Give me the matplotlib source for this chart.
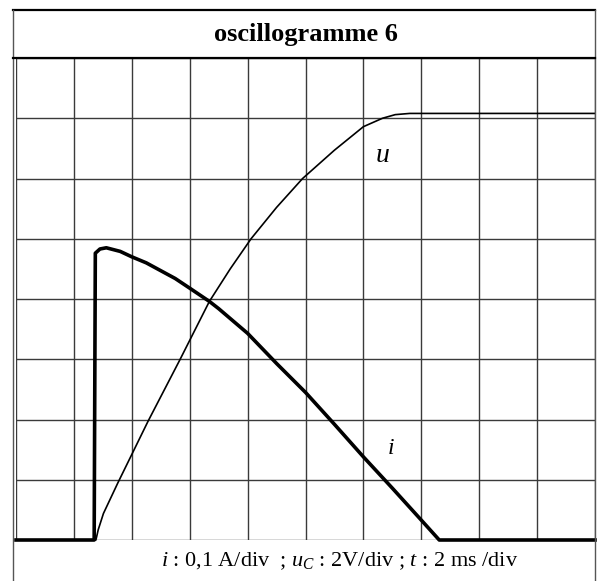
import matplotlib
matplotlib.use("Agg")
import matplotlib.pyplot as plt
from matplotlib.lines import Line2D

# %% data (divisions)
t_i = [0.0, 1.35, 1.37, 1.45, 1.56, 1.8, 2.0, 2.25, 2.5, 2.75, 3.0, 3.34, 3.5, 4.0,
       4.5, 5.0, 5.5, 6.0, 6.5, 7.0, 7.31, 10.0]
i_div = [0.0, 0.0, 4.76, 4.83, 4.85, 4.79, 4.70, 4.60, 4.47, 4.34, 4.18, 3.96, 3.84, 3.43,
         2.93, 2.45, 1.92, 1.38, 0.86, 0.33, 0.0, 0.0]

t_u = [0.0, 1.38, 1.42, 1.51, 1.76, 2.0, 2.28, 2.83, 3.34, 3.7, 4.06, 4.5, 4.95, 5.5,
       6.0, 6.33, 6.55, 6.8, 10.0]
u_div = [0.0, 0.0, 0.17, 0.44, 0.95, 1.42, 1.97, 2.99, 3.96, 4.5, 5.0, 5.52, 6.0, 6.47,
         6.86, 7.0, 7.06, 7.08, 7.08]

title = "oscillogramme 6"
caption = r"$i$ : 0,1 A/div  ; $u_C$ : 2V/div ; $t$ : 2 ms /div"

# %%
plt.rcParams['font.family'] = ['Liberation Serif', 'DejaVu Serif']
plt.rcParams['mathtext.fontset'] = 'custom'
plt.rcParams['mathtext.it'] = 'Liberation Serif:italic'
plt.rcParams['mathtext.rm'] = 'Liberation Serif'

W, H = 597, 581
fig = plt.figure(figsize=(W / 100, H / 100), dpi=100)

def fx(px):
    return px / W

def fy(py):
    return 1 - py / H

ax = fig.add_axes([fx(16), fy(540), fx(595) - fx(16), fy(58) - fy(540)])
ax.set_xlim(0, 10)
ax.set_ylim(0, 8)
ax.set_xticks(range(11))
ax.set_yticks(range(9))
ax.tick_params(length=0, labelbottom=False, labelleft=False)
ax.grid(True, color='#3a3a3a', linewidth=1.0)
for s in ax.spines.values():
    s.set_visible(False)

ax.plot(t_i, i_div, color='black', linewidth=2.6, clip_on=False, solid_joinstyle='round')
ax.plot(t_u, u_div, color='black', linewidth=1.2, clip_on=False)

ax.text(6.33, 6.39, "u", fontsize=20, style='italic', ha='center', va='center')
ax.text(6.48, 1.52, "i", fontsize=17, style='italic', ha='center', va='center')

# outer frame
fig.add_artist(Line2D([fx(13), fx(595)], [fy(10), fy(10)], color='black', linewidth=1.6))
fig.add_artist(Line2D([fx(13), fx(13)], [fy(10), fy(580)], color='#555555', linewidth=1.0))
fig.add_artist(Line2D([fx(595), fx(595)], [fy(10), fy(581)], color='#555555', linewidth=1.0))
fig.add_artist(Line2D([fx(13), fx(595)], [fy(57.5), fy(57.5)], color='black', linewidth=1.6))

fig.text(fx(306), fy(34), title, fontsize=19, fontweight='bold', ha='center', va='center')
fig.text(fx(340), fy(561), caption, fontsize=16, ha='center', va='center')

fig.savefig("out.png", dpi=100)
